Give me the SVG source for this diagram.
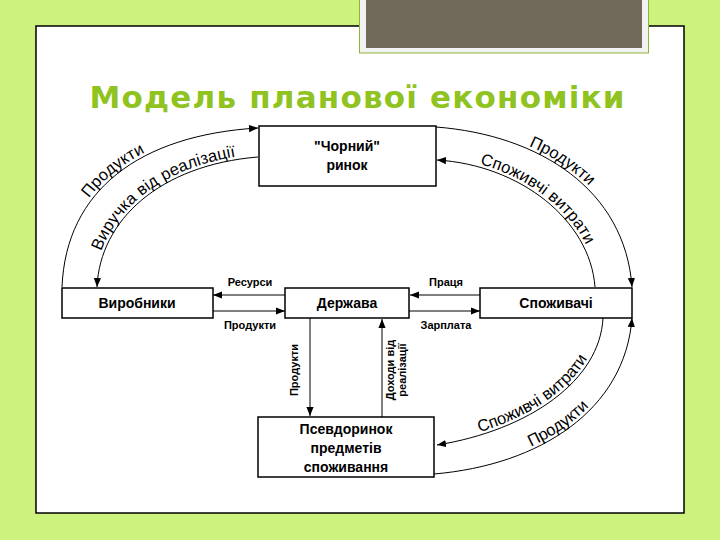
<svg xmlns="http://www.w3.org/2000/svg" width="720" height="540" viewBox="0 0 720 540">
<defs>
<style>
.box{fill:#fff;stroke:#000;stroke-width:1.5}
.bt{font-family:"Liberation Sans",Arial,sans-serif;font-weight:bold;font-size:14px;fill:#000;text-anchor:middle}
.lab{font-family:"Liberation Sans",Arial,sans-serif;font-weight:bold;font-size:11px;fill:#000;text-anchor:middle}
.cl{font-family:"Liberation Sans",Arial,sans-serif;font-size:16.5px;fill:#000;text-anchor:middle}
.ln{fill:none;stroke:#000;stroke-width:1}
</style>
<marker id="ah" viewBox="0 0 10 10" refX="10" refY="5" markerWidth="9" markerHeight="9" markerUnits="userSpaceOnUse" orient="auto-start-reverse">
<path d="M0,1 L10,5 L0,9 z" fill="#000"/>
</marker>
</defs>
<rect x="0" y="0" width="720" height="540" fill="#cdf27e"/>
<rect x="36" y="26" width="648" height="487" fill="#fff" stroke="#000" stroke-width="1.5"/>
<rect x="359.5" y="-2" width="289" height="55" fill="#f2f2f2" stroke="#8db53a" stroke-width="1"/>
<rect x="366" y="0" width="276" height="48" fill="#71695a"/>
<text x="357" y="108" font-family="DejaVu Sans, Verdana, sans-serif" font-weight="bold" font-size="31" fill="#8fc31f" text-anchor="middle" textLength="535" lengthAdjust="spacing">Модель планової економіки</text>

<g id="connectors">
<path id="tlo" class="ln" d="M62,287 C66,190 140,135 258,128" marker-end="url(#ah)"/>
<path id="tli" class="ln" d="M97,287 C100,220 160,165 258,157" marker-start="url(#ah)"/>
<path id="tro" class="ln" d="M436,127 C540,135 625,190 632,287" marker-end="url(#ah)"/>
<path id="tri" class="ln" d="M437,160 C520,165 590,220 595,287" marker-start="url(#ah)"/>
<path id="bro" class="ln" d="M434,474 C540,465 625,410 632,318" marker-end="url(#ah)"/>
<path id="bri" class="ln" d="M437,445 C530,430 600,380 603,318" marker-start="url(#ah)"/>
<line class="ln" x1="285" y1="295" x2="213" y2="295" marker-end="url(#ah)"/>
<line class="ln" x1="212" y1="311" x2="285" y2="311" marker-end="url(#ah)"/>
<line class="ln" x1="480" y1="295" x2="410" y2="295" marker-end="url(#ah)"/>
<line class="ln" x1="409" y1="311" x2="480" y2="311" marker-end="url(#ah)"/>
<line class="ln" x1="310" y1="318" x2="310" y2="416" marker-end="url(#ah)"/>
<line class="ln" x1="382" y1="417" x2="382" y2="319" marker-end="url(#ah)"/>
<text class="cl"><textPath href="#tlo" startOffset="46%"><tspan dy="-3">Продукти</tspan></textPath></text>
<text class="cl" font-size="17"><textPath href="#tli" startOffset="53%"><tspan dy="-3">Виручка від реалізації</tspan></textPath></text>
<text class="cl"><textPath href="#tro" startOffset="47%"><tspan dy="-3">Продукти</tspan></textPath></text>
<text class="cl" font-size="17"><textPath href="#tri" startOffset="50%"><tspan dy="-3">Споживчі витрати</tspan></textPath></text>
<text class="cl" font-size="15"><textPath href="#bro" startOffset="50%"><tspan dy="-3">Продукти</tspan></textPath></text>
<text class="cl" font-size="15"><textPath href="#bri" startOffset="50%"><tspan dy="-3">Споживчі витрати</tspan></textPath></text>
<text class="lab" x="250" y="286">Ресурси</text>
<text class="lab" x="250" y="329">Продукти</text>
<text class="lab" x="446" y="286">Праця</text>
<text class="lab" x="446" y="329">Зарплата</text>
<text class="lab" transform="translate(298,370) rotate(-90)">Продукти</text>
<text class="lab" transform="translate(394,370) rotate(-90)">Доходи від</text>
<text class="lab" transform="translate(406,370) rotate(-90)">реалізації</text>
</g>

<g id="chornyi">
<rect class="box" x="259" y="126" width="177" height="60"/>
<text class="bt" x="347" y="151">"Чорний"</text>
<text class="bt" x="347" y="170">ринок</text>
</g>
<g id="vyrobnyky">
<rect class="box" x="62" y="288" width="151" height="30"/>
<text class="bt" x="137" y="308">Виробники</text>
</g>
<g id="derzhava">
<rect class="box" x="285" y="288" width="124" height="30"/>
<text class="bt" x="347" y="308">Держава</text>
</g>
<g id="spozhyvachi">
<rect class="box" x="480" y="288" width="152" height="30"/>
<text class="bt" x="556" y="308">Споживачі</text>
</g>
<g id="psevdorynok">
<rect class="box" x="258" y="417" width="176" height="60"/>
<text class="bt" x="346" y="434" font-size="15">Псевдоринок</text>
<text class="bt" x="346" y="453" font-size="15">предметів</text>
<text class="bt" x="346" y="472" font-size="15">споживання</text>
</g>
</svg>
